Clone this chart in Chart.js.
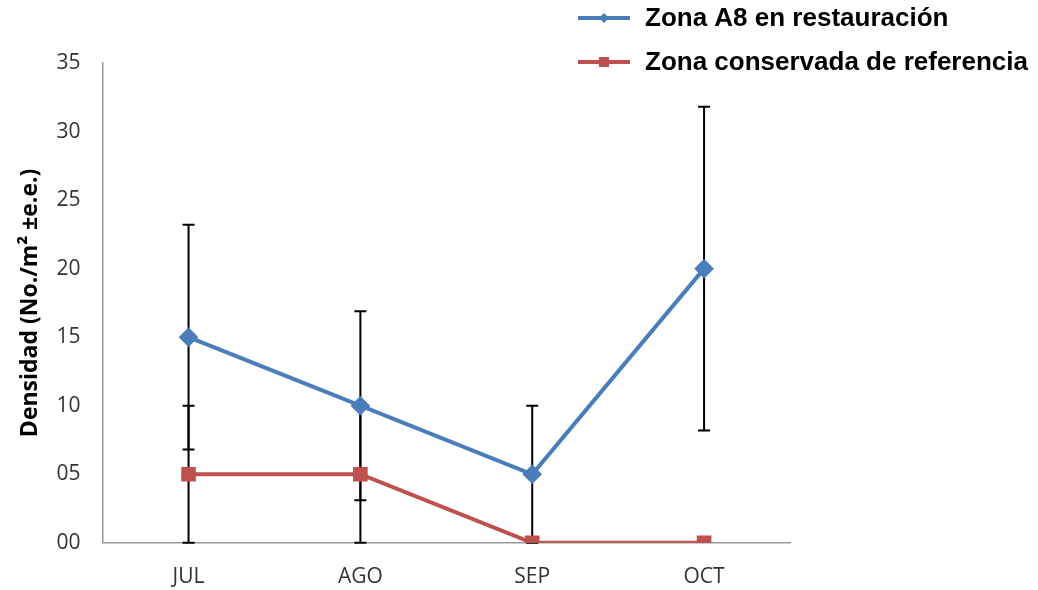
<!DOCTYPE html>
<html>
<head>
<meta charset="utf-8">
<script src="https://cdn.jsdelivr.net/npm/chart.js@4/dist/chart.umd.min.js"></script>
<style>
  html, body { margin: 0; padding: 0; background: #fff; }
  #wrap { width: 1038px; height: 590px; position: relative; }
</style>
</head>
<body>
<div id="wrap"><canvas id="chart" width="1038" height="590"></canvas></div>
<script>
// datos
const meses = ["JUL", "AGO", "SEP", "OCT"];
const zonaA8 = [15, 10, 5, 20];
const zonaA8Err = [8.2, 6.9, 5, 11.8];
const zonaRef = [5, 5, 0, 0];
const zonaRefErr = [5, 5, 0, 0];
const yTicks = [0, 5, 10, 15, 20, 25, 30, 35];

const azul = "#4a7ebb";
const rojo = "#c0504d";

// barras de error (se dibujan antes de las series)
const errorBars = {
  id: "errorBars",
  beforeDatasetsDraw(chart) {
    const ctx = chart.ctx;
    const x = chart.scales.x;
    const y = chart.scales.y;
    const errs = [zonaA8Err, zonaRefErr];
    ctx.save();
    ctx.strokeStyle = "#000";
    ctx.lineWidth = 2;
    chart.data.datasets.forEach((ds, i) => {
      ds.data.forEach((v, j) => {
        const e = errs[i][j];
        if (!e) return;
        const px = x.getPixelForValue(j);
        const top = y.getPixelForValue(v + e);
        const bot = y.getPixelForValue(Math.max(0, v - e));
        ctx.beginPath();
        ctx.moveTo(px, top); ctx.lineTo(px, bot);
        ctx.moveTo(px - 6, top); ctx.lineTo(px + 6, top);
        ctx.moveTo(px - 6, bot); ctx.lineTo(px + 6, bot);
        ctx.stroke();
      });
    });
    ctx.restore();
  }
};

// leyenda vertical arriba a la derecha
const legendaDerecha = {
  id: "legendaDerecha",
  afterDraw(chart) {
    const ctx = chart.ctx;
    ctx.save();
    ctx.font = "bold 26px 'Liberation Sans', Arial, sans-serif";
    ctx.textBaseline = "middle";
    chart.data.datasets.forEach((ds, i) => {
      const yy = 18 + i * 44;
      ctx.strokeStyle = ds.borderColor;
      ctx.lineWidth = 4;
      ctx.beginPath();
      ctx.moveTo(578, yy); ctx.lineTo(630, yy);
      ctx.stroke();
      ctx.fillStyle = ds.borderColor;
      if (ds.pointStyle === "rectRot") {
        ctx.beginPath();
        ctx.moveTo(604, yy - 5); ctx.lineTo(609, yy); ctx.lineTo(604, yy + 5); ctx.lineTo(599, yy);
        ctx.closePath(); ctx.fill();
      } else {
        ctx.fillRect(599, yy - 5, 10, 10);
      }
      ctx.fillStyle = "#000";
      ctx.fillText(ds.label, 645, yy + 1);
    });
    ctx.restore();
  }
};

new Chart(document.getElementById("chart"), {
  type: "line",
  data: {
    labels: meses,
    datasets: [
      {
        label: "Zona A8 en restauración",
        data: zonaA8,
        borderColor: azul,
        backgroundColor: azul,
        borderWidth: 4,
        pointStyle: "rectRot",
        pointRadius: 7,
        pointHoverRadius: 7,
        tension: 0
      },
      {
        label: "Zona conservada de referencia",
        data: zonaRef,
        borderColor: rojo,
        backgroundColor: rojo,
        borderWidth: 4,
        pointStyle: "rect",
        pointRadius: 7.5,
        pointHoverRadius: 7.5,
        tension: 0
      }
    ]
  },
  options: {
    responsive: false,
    animation: false,
    events: [],
    layout: { padding: { top: 63, right: 248, left: 17, bottom: -22 } },
    plugins: {
      legend: { display: false },
      tooltip: { enabled: false }
    },
    scales: {
      x: {
        offset: true,
        grid: { display: false, drawTicks: false },
        border: { color: "#999", width: 1.5 },
        ticks: { color: "#333", font: { family: "'Open Sans', sans-serif", size: 21 }, padding: 22 }
      },
      y: {
        min: 0,
        max: 35,
        afterBuildTicks(axis) { axis.ticks = yTicks.map(v => ({ value: v })); },
        afterFit(axis) { axis.width -= 18; },
        grid: { display: false, drawTicks: false },
        border: { color: "#999", width: 1.5 },
        ticks: {
          color: "#333",
          font: { family: "'Open Sans', sans-serif", size: 21 },
          padding: 22,
          callback: v => String(v).padStart(2, "0")
        },
        title: {
          display: true,
          text: "Densidad (No./m² ±e.e.)",
          color: "#000",
          font: { family: "'Open Sans', sans-serif", size: 23, weight: "bold" },
          padding: { top: 0, bottom: 8 }
        }
      }
    }
  },
  plugins: [errorBars, legendaDerecha]
});
</script>
</body>
</html>
